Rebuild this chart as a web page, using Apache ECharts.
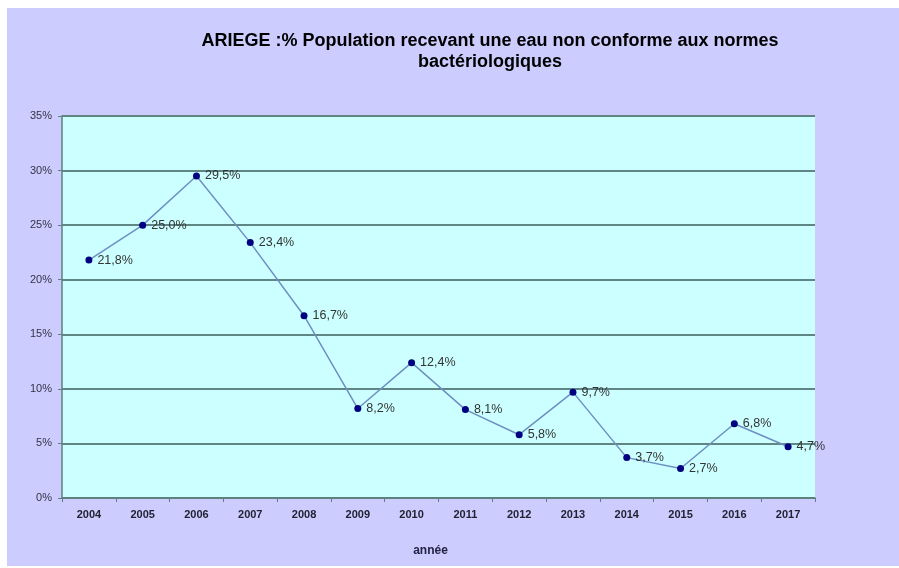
<!DOCTYPE html>
<html>
<head>
<meta charset="utf-8">
<script src="https://cdn.jsdelivr.net/npm/echarts@6/dist/echarts.min.js"></script>
<style>
  html, body { margin: 0; padding: 0; background: #ffffff; }
  #chart { width: 899px; height: 568px; }
</style>
</head>
<body>
<div id="chart"></div>
<script>
// Years and share of population receiving non-compliant water (%)
const years = ['2004', '2005', '2006', '2007', '2008', '2009', '2010', '2011', '2012', '2013', '2014', '2015', '2016', '2017'];
const pctValues = [21.8, 25.0, 29.5, 23.4, 16.7, 8.2, 12.4, 8.1, 5.8, 9.7, 3.7, 2.7, 6.8, 4.7];
const titleText = 'ARIEGE :% Population recevant une eau non conforme aux normes\nbactériologiques';
const xAxisName = 'année';

const fmtPct = v => v.toFixed(1).replace('.', ',') + '%';
const FONT = 'Liberation Sans, Arial, sans-serif';

const chart = echarts.init(document.getElementById('chart'), null, { renderer: 'canvas' });
chart.setOption({
  animation: false,
  backgroundColor: '#ffffff',
  graphic: [{
    type: 'rect',
    z: -10,
    silent: true,
    shape: { x: 7, y: 8, width: 892, height: 558 },
    style: { fill: '#ccccff' }
  }],
  title: {
    text: titleText,
    left: 485,
    textAlign: 'center',
    top: 26,
    textStyle: {
      fontFamily: FONT,
      fontWeight: 'bold',
      fontSize: 18,
      lineHeight: 21,
      color: '#000000'
    }
  },
  grid: {
    left: 62,
    right: 84,
    top: 116,
    bottom: 70,
    show: true,
    backgroundColor: '#ccffff',
    borderWidth: 0
  },
  xAxis: {
    type: 'category',
    data: years,
    boundaryGap: true,
    name: xAxisName,
    nameLocation: 'middle',
    nameGap: 47,
    nameTextStyle: {
      fontFamily: FONT,
      fontWeight: 'bold',
      fontSize: 12,
      color: '#222244',
      padding: [0, 16, 0, 0]
    },
    axisLine: { lineStyle: { color: '#5f7f80', width: 1.5 } },
    axisTick: { show: true, alignWithLabel: false, length: 4, lineStyle: { color: '#5f7f80' } },
    axisLabel: {
      fontFamily: FONT,
      fontWeight: 'bold',
      fontSize: 11,
      color: '#222233',
      margin: 11
    }
  },
  yAxis: {
    type: 'value',
    min: 0,
    max: 35,
    interval: 5,
    axisLine: { show: true, lineStyle: { color: '#5f7f80', width: 1.5 } },
    axisTick: { show: true, length: 4, lineStyle: { color: '#5f7f80' } },
    axisLabel: {
      formatter: '{value}%',
      fontFamily: FONT,
      fontSize: 11,
      color: '#333344',
      margin: 10
    },
    splitLine: { show: true, lineStyle: { color: '#5f8585', width: 2 } }
  },
  series: [{
    type: 'line',
    data: pctValues,
    symbol: 'circle',
    symbolSize: 7,
    itemStyle: { color: '#000080' },
    lineStyle: { color: '#6f8fc0', width: 1.5 },
    label: {
      show: true,
      position: 'right',
      distance: 5,
      formatter: p => fmtPct(p.value),
      fontFamily: FONT,
      fontSize: 12.5,
      color: '#333333'
    },
    z: 5
  }]
});
</script>
</body>
</html>
